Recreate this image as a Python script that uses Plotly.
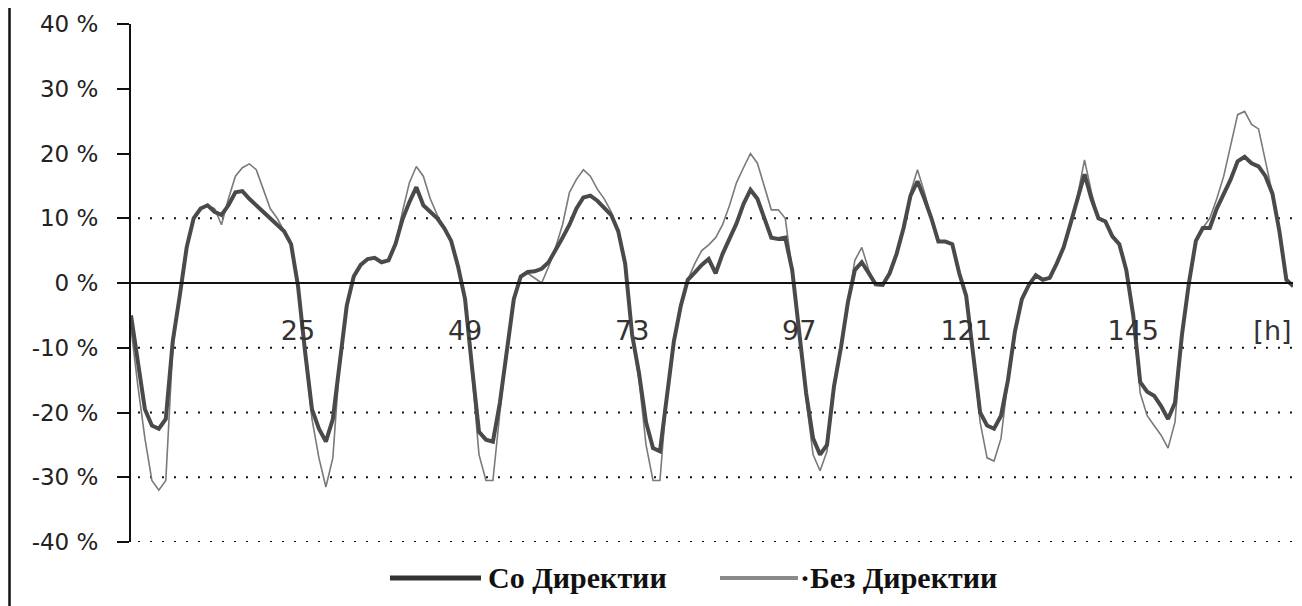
import plotly.graph_objects as go

# ---------------- data ----------------
hours = list(range(1, 169))

so_direktivi = [
    -5, -12, -19.5, -22, -22.5, -21, -9, -2, 5.5, 10, 11.5, 12, 11, 10.5, 12, 14, 14.2, 13, 12, 11, 10, 9, 8, 6,
    -0.5, -10.5, -19.5, -22.5, -24.5, -21, -12, -3.5, 1, 2.8, 3.7, 3.9, 3.2, 3.5, 6, 9.8, 12.5, 14.8, 12, 11, 10, 8.5, 6.5, 2.5,
    -2.5, -13, -23, -24.2, -24.5, -18.5, -10.5, -2.5, 1, 1.7, 1.8, 2.2, 3.2, 5, 7, 9, 11.5, 13.2, 13.5, 12.7, 11.5, 10.5, 8, 3,
    -8, -14, -21.5, -25.5, -26, -17, -9, -3.5, 0.5, 1.6, 2.8, 3.7, 1.5, 4.5, 6.8, 9.2, 12.2, 14.4, 13, 10, 7, 6.8, 7, 2,
    -8, -17, -24, -26.5, -25, -16, -10, -3, 2, 3.2, 1.5, -0.2, -0.3, 1.5, 4.5, 8.5, 13.5, 15.7, 13, 10, 6.4, 6.4, 6, 1.5,
    -2, -11, -20, -22, -22.5, -20.5, -15, -7.5, -2.5, -0.3, 1.2, 0.5, 0.8, 3, 5.5, 9.2, 13.3, 16.8, 13, 10, 9.5, 7.2, 6, 2,
    -5, -15.3, -16.8, -17.4, -19, -21, -18.5, -8, 0, 6.5, 8.5, 8.5, 11.5, 13.8, 16, 18.8, 19.5, 18.5, 18, 16.5, 13.8, 8, 0.5, -0.5,
]

bez_direktivi = [
    -7, -16, -24, -30.5, -32, -30.5, -10, -2, 5.5, 10, 11.5, 12, 11.5, 9, 13, 16.5, 17.8, 18.4, 17.5, 14.5, 11.5, 10, 8, 6,
    -0.5, -11, -21, -27, -31.5, -27, -12, -3.5, 1, 2.8, 3.7, 3.9, 3.2, 3.5, 6, 11, 15.5, 18, 16.5, 13, 10.5, 8.5, 6.5, 2.5,
    -2.5, -14, -26.5, -30.5, -30.5, -20, -10.5, -2.5, 1, 1.5, 0.8, 0, 2.5, 5.5, 9, 14, 16, 17.5, 16.5, 14.5, 13, 11, 8, 3,
    -8, -15, -25, -30.5, -30.5, -17, -9, -3.5, 0.5, 3, 5, 5.9, 7, 9, 12, 15.5, 17.8, 20, 18.5, 15, 11.3, 11.3, 10, 2,
    -8, -18, -26.5, -29, -26, -16, -10, -3, 3.5, 5.5, 2, -0.2, -0.3, 1.5, 4.5, 8.5, 14, 17.5, 14, 10, 6.4, 6.4, 6, 1.5,
    -2, -11, -21.5, -27, -27.5, -24, -15, -7.5, -2.5, -0.3, 1.2, 0.5, 0.8, 3, 5.5, 9.2, 13.5, 19, 14, 10, 9.5, 7.2, 6, 2,
    -5, -17, -20.5, -22, -23.5, -25.5, -21.5, -8, 0, 6.5, 8.5, 10, 13, 16.5, 21.5, 26, 26.5, 24.5, 23.8, 19, 13.8, 8, 0.5, -0.5,
]

series_names = ["Со Директии", "Без Директии"]

y_tick_vals = [40, 30, 20, 10, 0, -10, -20, -30, -40]
y_tick_text = ["40 %", "30 %", "20 %", "10 %", "0 %", "-10 %", "-20 %", "-30 %", "-40 %"]
x_tick_vals = [25, 49, 73, 97, 121, 145, 165]
x_tick_text = ["25", "49", "73", "97", "121", "145", "[h]"]
grid_levels = [10, -10, -20, -30, -40]

# ---------------- layout geometry (pixels) ----------------
OFF = 8  # page body margin
W, H = 1294, 598
L, R, T, B = 123, 9, 16, 64
PW, PH = W - L - R, H - T - B

def px2x(px):  # screen pixel -> paper x
    return (px - OFF - L) / PW

def py2y(py):  # screen pixel -> paper y
    return (H - B - (py - OFF)) / PH

COL_SO = "#4a4a4a"
COL_BEZ = "#7a7a7a"

fig = go.Figure()
fig.add_trace(go.Scatter(
    x=hours, y=bez_direktivi, mode="lines", name=series_names[1],
    line=dict(color=COL_BEZ, width=1.6), showlegend=False,
))
fig.add_trace(go.Scatter(
    x=hours, y=so_direktivi, mode="lines", name=series_names[0],
    line=dict(color=COL_SO, width=4), showlegend=False,
))

shapes = []
for g in grid_levels:
    shapes.append(dict(type="line", xref="paper", yref="y", x0=0.006, x1=1.0, y0=g, y1=g,
                       line=dict(color="#111", width=2, dash="2px,10px"), layer="below"))
# left frame border
shapes.append(dict(type="line", xref="paper", yref="paper", x0=px2x(9.5), x1=px2x(9.5),
                   y0=py2y(OFF), y1=py2y(H + OFF), line=dict(color="#111", width=2.5)))
# custom legend samples
shapes.append(dict(type="line", xref="paper", yref="paper", x0=px2x(390), x1=px2x(481),
                   y0=py2y(578), y1=py2y(578), line=dict(color="#333", width=5)))
shapes.append(dict(type="line", xref="paper", yref="paper", x0=px2x(720), x1=px2x(798),
                   y0=py2y(578), y1=py2y(578), line=dict(color="#8a8a8a", width=4)))

annotations = [
    dict(text="<b>" + series_names[0] + "</b>", xref="paper", yref="paper", x=px2x(486), y=py2y(577),
         xanchor="left", yanchor="middle", showarrow=False,
         font=dict(family="Liberation Serif", size=30, color="#111")),
    dict(text="<b>·" + series_names[1] + "</b>", xref="paper", yref="paper", x=px2x(798), y=py2y(577),
         xanchor="left", yanchor="middle", showarrow=False,
         font=dict(family="Liberation Serif", size=30, color="#111")),
]

fig.update_layout(
    width=W, height=H,
    margin=dict(l=L, r=R, t=T, b=B, autoexpand=False),
    paper_bgcolor="white", plot_bgcolor="white",
    shapes=shapes, annotations=annotations,
    showlegend=False,
    xaxis=dict(
        range=[1, 1 + PW / 6.96], anchor="free", position=0.5, automargin=False,
        showline=True, linecolor="#111", linewidth=1.5,
        showgrid=False, zeroline=False, ticks="",
        tickmode="array", tickvals=x_tick_vals, ticktext=x_tick_text,
        ticklabelstandoff=24,
        tickfont=dict(family="DejaVu Sans", size=27, color="#333"),
    ),
    yaxis=dict(
        range=[-40, 40], automargin=False, showline=True, linecolor="#111", linewidth=2,
        showgrid=False, zeroline=False,
        ticks="outside", ticklen=12, tickwidth=2, tickcolor="#111",
        tickmode="array", tickvals=y_tick_vals, ticktext=y_tick_text,
        ticklabelstandoff=14,
        tickfont=dict(family="DejaVu Sans", size=23, color="#222"),
    ),
)
# zero line across plot
fig.add_hline(y=0, line=dict(color="#111", width=1.5), layer="below")

fig.write_html("out.html")
